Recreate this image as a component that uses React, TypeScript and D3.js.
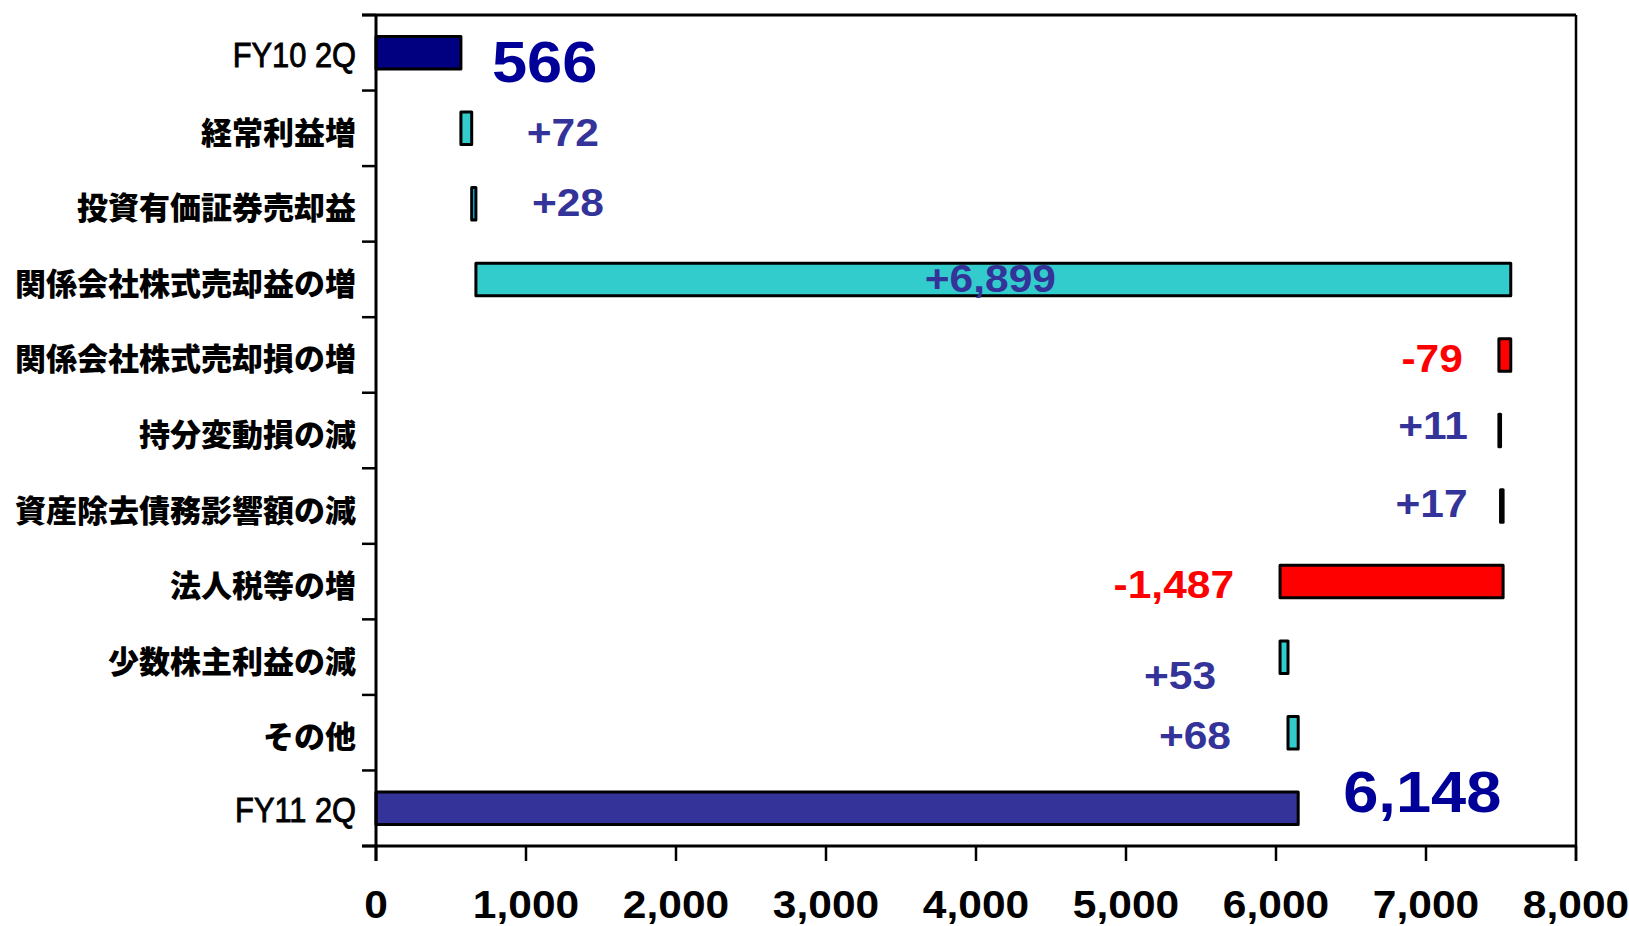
import React from "react";
import * as d3 from "d3";

// ---------- DATA ----------
const categories = [
  "FY10 2Q",
  "経常利益増",
  "投資有価証券売却益",
  "関係会社株式売却益の増",
  "関係会社株式売却損の増",
  "持分変動損の減",
  "資産除去債務影響額の減",
  "法人税等の増",
  "少数株主利益の減",
  "その他",
  "FY11 2Q",
];
const startValue = 566;
const changes = [72, 28, 6899, -79, 11, 17, -1487, 53, 68];
const endValue = 6148;
const xTicks = [0, 1000, 2000, 3000, 4000, 5000, 6000, 7000, 8000];

// ---------- STYLE ----------
const W = 1629;
const H = 926;
const M = { left: 376, right: 1576, top: 15, bottom: 846 };
const fills = [
  "#000080", "#33CCCC", "#00CCFF", "#33CCCC", "#FF0000", "#33CCCC",
  "#33CCCC", "#FF0000", "#33CCCC", "#33CCCC", "#333399",
];
// label placement: side relative to bar, pixel offsets
const labelPlace: { side: "right" | "left" | "center"; dx: number; dy: number }[] = [
  { side: "right", dx: 31, dy: 8 },
  { side: "right", dx: 55, dy: 3.5 },
  { side: "right", dx: 56, dy: -2 },
  { side: "center", dx: -3, dy: -1 },
  { side: "left", dx: -36, dy: 3 },
  { side: "left", dx: -31, dy: -5.5 },
  { side: "left", dx: -33, dy: -3 },
  { side: "left", dx: -46, dy: 2.5 },
  { side: "left", dx: -64, dy: 17.5 },
  { side: "left", dx: -57, dy: 2 },
  { side: "right", dx: 45, dy: -16.5 },
];
const STRETCH = 1.09;

export default function App() {
  const x = d3.scaleLinear().domain([0, 8000]).range([M.left, M.right]);
  const y = d3
    .scaleBand<string>()
    .domain(categories)
    .range([M.top, M.bottom])
    .paddingInner(0.57)
    .paddingOuter(0.285);
  const step = y.step();
  const bw = y.bandwidth();

  // waterfall segments
  const segs: { lo: number; hi: number; value: number; total: boolean }[] = [];
  segs.push({ lo: 0, hi: startValue, value: startValue, total: true });
  let run = startValue;
  changes.forEach((c) => {
    const next = run + c;
    segs.push({ lo: Math.min(run, next), hi: Math.max(run, next), value: c, total: false });
    run = next;
  });
  segs.push({ lo: 0, hi: endValue, value: endValue, total: true });

  const fmtDelta = (v: number) => d3.format("+,")(v).replace("−", "-");
  const fmtTotal = d3.format(",");

  const boundaries = d3.range(categories.length + 1).map((k) => M.top + k * step);

  return (
    <svg
      width={W}
      height={H}
      style={{ position: "absolute", left: 0, top: 0, background: "#fff" }}
    >
      <rect x={0} y={0} width={W} height={H} fill="#fff" />
      {/* bars */}
      {segs.map((s, i) => (
        <rect
          key={"b" + i}
          x={x(s.lo)}
          y={y(categories[i])!}
          width={Math.max(0.5, x(s.hi) - x(s.lo))}
          height={bw}
          fill={fills[i]}
          stroke="#000"
          strokeWidth={3}
          strokeLinejoin="round"
        />
      ))}
      {/* frame & axes */}
      <line x1={M.left - 14} x2={M.right} y1={M.top} y2={M.top} stroke="#000" strokeWidth={3} />
      <line x1={M.right} x2={M.right} y1={M.top} y2={M.bottom + 15} stroke="#000" strokeWidth={2.5} />
      <line x1={M.left} x2={M.left} y1={M.top} y2={M.bottom + 15} stroke="#000" strokeWidth={3} />
      <line x1={M.left - 14} x2={M.right} y1={M.bottom} y2={M.bottom} stroke="#000" strokeWidth={3} />
      {boundaries.map((b, k) => (
        <line key={"yt" + k} x1={M.left - 14} x2={M.left} y1={b} y2={b} stroke="#000" strokeWidth={2.5} />
      ))}
      {xTicks.map((t) => (
        <line key={"xt" + t} x1={x(t)} x2={x(t)} y1={M.bottom} y2={M.bottom + 15} stroke="#000" strokeWidth={2.5} />
      ))}
      {/* x tick labels */}
      {xTicks.map((t) => (
        <text
          key={"xl" + t}
          transform={`translate(${x(t)},${918}) scale(${STRETCH},1)`}
          textAnchor="middle"
          fontFamily="'Liberation Sans', Arial, sans-serif"
          fontWeight="bold"
          fontSize={39}
          fill="#000"
        >
          {d3.format(",")(t)}
        </text>
      ))}
      {/* category labels */}
      {categories.map((c, i) => {
        const cy = y(c)! + bw / 2;
        const isFY = c.startsWith("FY");
        if (isFY) {
          return (
            <text
              key={"cl" + i}
              transform={`translate(${356},${cy + 1.5 + 12.5}) scale(0.88,1)`}
              textAnchor="end"
              fontFamily="'Liberation Sans', Arial, sans-serif"
              fontSize={35}
              fill="#000"
              stroke="#000"
              strokeWidth={0.9}
            >
              {c}
            </text>
          );
        }
        return (
          <text
            key={"cl" + i}
            x={356}
            y={cy + 2}
            dominantBaseline="central"
            textAnchor="end"
            fontFamily="'Noto Sans CJK JP', sans-serif"
            fontWeight={900}
            fontSize={31}
            fill="#000"
          >
            {c}
          </text>
        );
      })}
      {/* value labels */}
      {segs.map((s, i) => {
        const p = labelPlace[i];
        const cy = y(categories[i])! + bw / 2 + p.dy;
        const fs = s.total ? 58 : 39;
        let lx = 0;
        let anchor: "start" | "end" | "middle" = "start";
        if (p.side === "right") {
          lx = x(s.hi) + p.dx;
          anchor = "start";
        } else if (p.side === "left") {
          lx = x(s.lo) + p.dx;
          anchor = "end";
        } else {
          lx = (x(s.lo) + x(s.hi)) / 2 + p.dx;
          anchor = "middle";
        }
        const color = s.total ? "#000099" : s.value < 0 ? "#FF0000" : "#333399";
        return (
          <text
            key={"vl" + i}
            transform={`translate(${lx},${cy + fs * 0.358}) scale(${STRETCH},1)`}
            textAnchor={anchor}
            fontFamily="'Liberation Sans', Arial, sans-serif"
            fontWeight="bold"
            fontSize={fs}
            fill={color}
          >
            {s.total ? fmtTotal(s.value) : fmtDelta(s.value)}
          </text>
        );
      })}
    </svg>
  );
}
